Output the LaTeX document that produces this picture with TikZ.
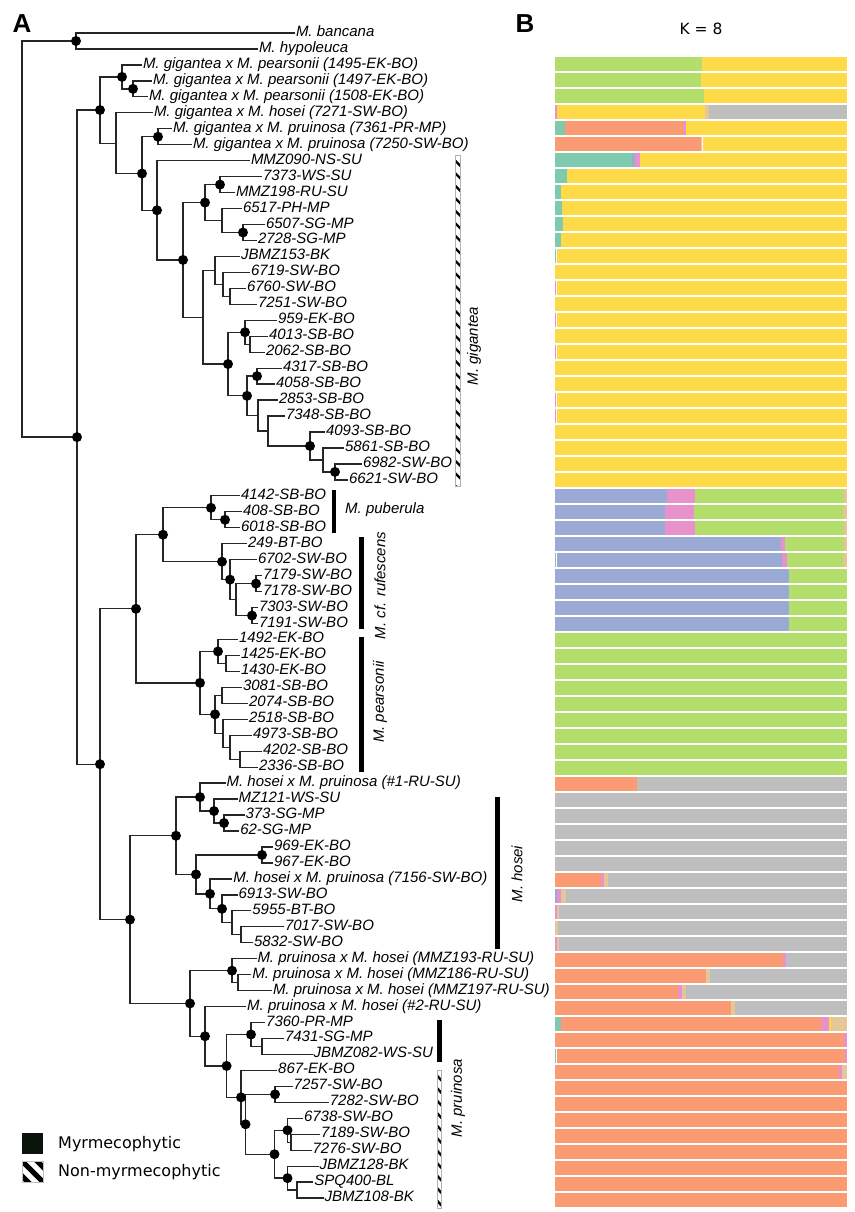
\documentclass[tikz,border=0pt]{standalone}
\usepackage{fontspec}
\setmainfont{Liberation Sans}
\newfontfamily\dejavu{DejaVu Sans}
\definecolor{cteal}{HTML}{7DCAAF}
\definecolor{csalmon}{HTML}{FB9B74}
\definecolor{cblue}{HTML}{9BAAD4}
\definecolor{cpink}{HTML}{E892CB}
\definecolor{cgreen}{HTML}{B3DE6B}
\definecolor{cyellow}{HTML}{FFDA48}
\definecolor{ctan}{HTML}{E5C699}
\definecolor{cgray}{HTML}{BEBEBE}
\definecolor{legblack}{HTML}{0B140B}
\newcommand{\admix}[2]{%
  \foreach \bc/\be [remember=\be as \bs (initially 555)] in {#2}
    \fill[\bc] ({\bs+0.35},{16*#1+8.7}) rectangle ({\be-0.35},{16*#1+23.3});
}
\newcommand{\hatchbar}[4]{%
  \begin{scope}
    \clip (#1,#2) rectangle (#3,#4);
    \fill[white] (#1,#2) rectangle (#3,#4);
    \pgfmathsetmacro{\hbA}{#2-8}\pgfmathsetmacro{\hbB}{#2+4.5}
    \foreach \yy in {\hbA,\hbB,...,#4} \draw[line width=2.4pt] (#1-1,\yy) -- (#3+1,\yy+7);
  \end{scope}
  \draw[gray!60, line width=0.6pt] (#1,#2) rectangle (#3,#4);}
\begin{document}
\begin{tikzpicture}[x=1pt,y=-1pt,
  branch/.style={line width=1.3pt, black!85},
  ndot/.style={circle, fill=black, inner sep=0pt, minimum size=10pt},
  leaf/.style={anchor=west, inner xsep=0.8pt, inner ysep=0pt, text height=10pt, text depth=3pt, font=\fontsize{15}{16}\selectfont\itshape},
  clab/.style={font=\fontsize{15}{16}\selectfont\itshape, inner sep=0pt},
  panel/.style={font=\fontsize{26}{26}\selectfont\bfseries, anchor=base, inner sep=0pt},
  legtext/.style={font=\dejavu\fontsize{16}{16}\selectfont, anchor=west, inner sep=0pt}
]
\useasboundingbox (0,0) rectangle (854,1212);

% ---------- internal nodes ----------
\coordinate (root) at (22,239.05);
\coordinate (og) at (76,40.98);
\coordinate (ig) at (77,437.12);
\coordinate (A) at (100,110.03);
\coordinate (h1) at (122,76.89);
\coordinate (h2) at (133,88.86);
\coordinate (B) at (116,143.16);
\coordinate (C) at (142,173.52);
\coordinate (D) at (158,136.74);
\coordinate (E) at (157,210.29);
\coordinate (F) at (183,259.9);
\coordinate (H) at (205,202.58);
\coordinate (I) at (220,184.62);
\coordinate (J) at (222,220.53);
\coordinate (K) at (243,232.5);
\coordinate (G) at (203,317.22);
\coordinate (L) at (215,270.4);
\coordinate (M) at (223,284.37);
\coordinate (N) at (230,296.34);
\coordinate (O) at (228,364.05);
\coordinate (P) at (245,332.25);
\coordinate (Q) at (250,344.22);
\coordinate (R) at (247,395.84);
\coordinate (S) at (257,376.14);
\coordinate (T) at (258,415.54);
\coordinate (U) at (268,431.0);
\coordinate (V) at (310,445.97);
\coordinate (W) at (323,459.93);
\coordinate (X) at (335,471.9);
\coordinate (LN) at (100,764.21);
\coordinate (UL) at (136,608.82);
\coordinate (PR) at (163,534.75);
\coordinate (Pu) at (211,507.81);
\coordinate (Pu2) at (225,519.78);
\coordinate (Ru) at (222,561.68);
\coordinate (Ru2) at (230,579.63);
\coordinate (Ru3) at (236,599.58);
\coordinate (Ru4) at (256,583.62);
\coordinate (Ru5) at (252,615.54);
\coordinate (Pe) at (200,682.88);
\coordinate (Pe1) at (218,651.45);
\coordinate (Pe2) at (226,663.42);
\coordinate (Pe3) at (215,714.3);
\coordinate (Pe4) at (222,695.34);
\coordinate (Pe5) at (223,733.25);
\coordinate (Pe6) at (230,747.21);
\coordinate (Pe7) at (240,759.18);
\coordinate (LL) at (130,919.6);
\coordinate (Ho) at (176,835.75);
\coordinate (Ho1) at (200,797.09);
\coordinate (Ho2) at (214,811.05);
\coordinate (Ho3) at (224,823.02);
\coordinate (Ho4) at (196,874.4);
\coordinate (Ho5) at (262,854.94);
\coordinate (Ho6) at (210,893.85);
\coordinate (Ho7) at (222,908.81);
\coordinate (Ho8) at (232,922.77);
\coordinate (Ho9) at (241,934.74);
\coordinate (Pr) at (190,1003.45);
\coordinate (Pr1) at (232,970.65);
\coordinate (Pr2) at (238,982.62);
\coordinate (Pr3) at (205,1036.24);
\coordinate (Pr4) at (226.6,1065.92);
\coordinate (Pr5) at (251,1034.49);
\coordinate (Pr6) at (262,1046.46);
\coordinate (Xx) at (241,1097.34);
\coordinate (Pr8) at (275,1094.34);
\coordinate (Z) at (245.5,1124.27);
\coordinate (Z2) at (274.5,1154.19);
\coordinate (Z3) at (287.5,1130.25);
\coordinate (Z4) at (291,1142.22);
\coordinate (Z5) at (287.5,1178.13);
\coordinate (Z6) at (297,1190.1);

% ---------- leaves ----------
\node[leaf] (L1) at (295,33.0) {M. bancana};
\node[leaf] (L2) at (258,48.96) {M. hypoleuca};
\node[leaf] (L3) at (142,64.92) {M. gigantea x M. pearsonii (1495-EK-BO)};
\node[leaf] (L4) at (152,80.88) {M. gigantea x M. pearsonii (1497-EK-BO)};
\node[leaf] (L5) at (148,96.84) {M. gigantea x M. pearsonii (1508-EK-BO)};
\node[leaf] (L6) at (153,112.8) {M. gigantea x M. hosei (7271-SW-BO)};
\node[leaf] (L7) at (172,128.76) {M. gigantea x M. pruinosa (7361-PR-MP)};
\node[leaf] (L8) at (192,144.72) {M. gigantea x M. pruinosa (7250-SW-BO)};
\node[leaf] (L9) at (250,160.68) {MMZ090-NS-SU};
\node[leaf] (L10) at (262,176.64) {7373-WS-SU};
\node[leaf] (L11) at (235,192.6) {MMZ198-RU-SU};
\node[leaf] (L12) at (242,208.56) {6517-PH-MP};
\node[leaf] (L13) at (265,224.52) {6507-SG-MP};
\node[leaf] (L14) at (257,240.48) {2728-SG-MP};
\node[leaf] (L15) at (240,256.44) {JBMZ153-BK};
\node[leaf] (L16) at (250,272.4) {6719-SW-BO};
\node[leaf] (L17) at (246,288.36) {6760-SW-BO};
\node[leaf] (L18) at (257,304.32) {7251-SW-BO};
\node[leaf] (L19) at (277,320.28) {959-EK-BO};
\node[leaf] (L20) at (268,336.24) {4013-SB-BO};
\node[leaf] (L21) at (265,352.2) {2062-SB-BO};
\node[leaf] (L22) at (282,368.16) {4317-SB-BO};
\node[leaf] (L23) at (275,384.12) {4058-SB-BO};
\node[leaf] (L24) at (278,400.08) {2853-SB-BO};
\node[leaf] (L25) at (285,416.04) {7348-SB-BO};
\node[leaf] (L26) at (325,432.0) {4093-SB-BO};
\node[leaf] (L27) at (344,447.96) {5861-SB-BO};
\node[leaf] (L28) at (362,463.92) {6982-SW-BO};
\node[leaf] (L29) at (348,479.88) {6621-SW-BO};
\node[leaf] (L30) at (240,495.84) {4142-SB-BO};
\node[leaf] (L31) at (242,511.8) {408-SB-BO};
\node[leaf] (L32) at (240,527.76) {6018-SB-BO};
\node[leaf] (L33) at (247,543.72) {249-BT-BO};
\node[leaf] (L34) at (257,559.68) {6702-SW-BO};
\node[leaf] (L35) at (262,575.64) {7179-SW-BO};
\node[leaf] (L36) at (262,591.6) {7178-SW-BO};
\node[leaf] (L37) at (258,607.56) {7303-SW-BO};
\node[leaf] (L38) at (258,623.52) {7191-SW-BO};
\node[leaf] (L39) at (238,639.48) {1492-EK-BO};
\node[leaf] (L40) at (240,655.44) {1425-EK-BO};
\node[leaf] (L41) at (240,671.4) {1430-EK-BO};
\node[leaf] (L42) at (242,687.36) {3081-SB-BO};
\node[leaf] (L43) at (248,703.32) {2074-SB-BO};
\node[leaf] (L44) at (248,719.28) {2518-SB-BO};
\node[leaf] (L45) at (252,735.24) {4973-SB-BO};
\node[leaf] (L46) at (262,751.2) {4202-SB-BO};
\node[leaf] (L47) at (258,767.16) {2336-SB-BO};
\node[leaf] (L48) at (225.6,783.12) {M. hosei x M. pruinosa (\#1-RU-SU)};
\node[leaf] (L49) at (237.6,799.08) {MZ121-WS-SU};
\node[leaf] (L50) at (244.5,815.04) {373-SG-MP};
\node[leaf] (L51) at (239.3,831.0) {62-SG-MP};
\node[leaf] (L52) at (273,846.96) {969-EK-BO};
\node[leaf] (L53) at (273,862.92) {967-EK-BO};
\node[leaf] (L54) at (232.4,878.88) {M. hosei x M. pruinosa (7156-SW-BO)};
\node[leaf] (L55) at (237.6,894.84) {6913-SW-BO};
\node[leaf] (L56) at (251.4,910.8) {5955-BT-BO};
\node[leaf] (L57) at (284,926.76) {7017-SW-BO};
\node[leaf] (L58) at (253,942.72) {5832-SW-BO};
\node[leaf] (L59) at (256.5,958.68) {M. pruinosa x M. hosei (MMZ193-RU-SU)};
\node[leaf] (L60) at (251.4,974.64) {M. pruinosa x M. hosei (MMZ186-RU-SU)};
\node[leaf] (L61) at (272,990.6) {M. pruinosa x M. hosei (MMZ197-RU-SU)};
\node[leaf] (L62) at (246.2,1006.56) {M. pruinosa x M. hosei (\#2-RU-SU)};
\node[leaf] (L63) at (265.2,1022.52) {7360-PR-MP};
\node[leaf] (L64) at (284,1038.48) {7431-SG-MP};
\node[leaf] (L65) at (312.7,1054.44) {JBMZ082-WS-SU};
\node[leaf] (L66) at (277.2,1070.4) {867-EK-BO};
\node[leaf] (L67) at (292.7,1086.36) {7257-SW-BO};
\node[leaf] (L68) at (328.9,1102.32) {7282-SW-BO};
\node[leaf] (L69) at (303,1118.28) {6738-SW-BO};
\node[leaf] (L70) at (320.2,1134.24) {7189-SW-BO};
\node[leaf] (L71) at (311.6,1150.2) {7276-SW-BO};
\node[leaf] (L72) at (318.5,1166.16) {JBMZ128-BK};
\node[leaf] (L73) at (313.4,1182.12) {SPQ400-BL};
\node[leaf] (L74) at (323.7,1198.08) {JBMZ108-BK};

% ---------- branches ----------
\foreach \p/\q in {root/og, root/ig, og/L1.west, og/L2.west, ig/A, ig/LN,
  A/h1, A/B, h1/L3.west, h1/h2, h2/L4.west, h2/L5.west, B/L6.west, B/C,
  C/D, C/E, D/L7.west, D/L8.west, E/L9.west, E/F, F/H, F/G, H/I, H/J,
  I/L10.west, I/L11.west, J/L12.west, J/K, K/L13.west, K/L14.west,
  G/L, G/O, L/L15.west, L/M, M/L16.west, M/N, N/L17.west, N/L18.west,
  O/P, O/R, P/L19.west, P/Q, Q/L20.west, Q/L21.west, R/S, R/T,
  S/L22.west, S/L23.west, T/L24.west, T/U, U/L25.west, U/V, V/L26.west, V/W,
  W/L27.west, W/X, X/L28.west, X/L29.west,
  LN/UL, LN/LL, UL/PR, UL/Pe, PR/Pu, PR/Ru, Pu/L30.west, Pu/Pu2,
  Pu2/L31.west, Pu2/L32.west, Ru/L33.west, Ru/Ru2, Ru2/L34.west, Ru2/Ru3,
  Ru3/Ru4, Ru3/Ru5, Ru4/L35.west, Ru4/L36.west, Ru5/L37.west, Ru5/L38.west,
  Pe/Pe1, Pe/Pe3, Pe1/L39.west, Pe1/Pe2, Pe2/L40.west, Pe2/L41.west,
  Pe3/Pe4, Pe3/Pe5, Pe4/L42.west, Pe4/L43.west, Pe5/L44.west, Pe5/Pe6,
  Pe6/L45.west, Pe6/Pe7, Pe7/L46.west, Pe7/L47.west,
  LL/Ho, LL/Pr, Ho/Ho1, Ho/Ho4, Ho1/L48.west, Ho1/Ho2, Ho2/L49.west, Ho2/Ho3,
  Ho3/L50.west, Ho3/L51.west, Ho4/Ho5, Ho4/Ho6, Ho5/L52.west, Ho5/L53.west,
  Ho6/L54.west, Ho6/Ho7, Ho7/L55.west, Ho7/Ho8, Ho8/L56.west, Ho8/Ho9,
  Ho9/L57.west, Ho9/L58.west,
  Pr/Pr1, Pr/Pr3, Pr1/L59.west, Pr1/Pr2, Pr2/L60.west, Pr2/L61.west,
  Pr3/L62.west, Pr3/Pr4, Pr4/Pr5, Pr4/Xx, Pr5/L63.west, Pr5/Pr6,
  Pr6/L64.west, Pr6/L65.west, Xx/L66.west, Xx/Z, Z/Pr8, Z/Z2,
  Pr8/L67.west, Pr8/L68.west, Z2/Z3, Z2/Z5, Z3/L69.west, Z3/Z4,
  Z4/L70.west, Z4/L71.west, Z5/L72.west, Z5/Z6, Z6/L73.west, Z6/L74.west}
  \draw[branch] (\p) |- (\q);

% ---------- support dots ----------
\foreach \n in {og, ig, A, h1, h2, C, D, E, F, H, I, K, O, P, R, S, V, X,
  LN, UL, PR, Pu, Pu2, Ru, Ru2, Ru4, Ru5, Pe, Pe1, Pe3,
  LL, Ho, Ho1, Ho2, Ho3, Ho4, Ho5, Ho6, Ho7,
  Pr, Pr1, Pr3, Pr4, Pr5, Xx, Pr8, Z, Z2, Z3, Z5}
  \node[ndot] at (\n) {};

% ---------- clade bars ----------
\hatchbar{455}{155}{460}{486}
\node[clab, rotate=90] (tgig) at (474,346) {M. gigantea};
\fill (332,490) rectangle (336,533);
\node[clab, anchor=west] (tpub) at (345,510) {M. puberula};
\fill (359,537) rectangle (364,629);
\node[clab, rotate=90] (truf) at (380,585.5) {M. cf. rufescens};
\fill (359,637) rectangle (364,772);
\node[clab, rotate=90] (tpea) at (380,702) {M. pearsonii};
\fill (495,797) rectangle (500,949);
\node[clab, rotate=90] (thos) at (517,874) {M. hosei};
\fill (437,1020) rectangle (441.5,1062);
\hatchbar{437}{1070}{441.5}{1208}
\node[clab, rotate=90] (tpru) at (458,1098) {M. pruinosa};

% ---------- legend ----------
\fill[legblack] (22,1133) rectangle (43,1154);
\begin{scope}
  \clip (22,1161) rectangle (43,1182);
  \fill[white] (22,1161) rectangle (43,1182);
  \foreach \cc in {-15,0,15}
    \draw[line width=5pt] (12+\cc,1151) -- (53+\cc,1192);
\end{scope}
\draw[gray!50, line width=0.5pt] (22,1161) rectangle (43,1182);
\node[legtext] (lg1) at (58,1144) {Myrmecophytic};
\node[legtext] (lg2) at (58,1172) {Non-myrmecophytic};

% ---------- panel labels ----------
\node[panel] (pA) at (22,33) {A};
\node[panel] (pB) at (525,33) {B};
\node[font=\dejavu\fontsize{15.5}{16}\selectfont, inner sep=0pt] (kk) at (701,29) {K = 8};

% ---------- admixture bars ----------
\admix{3}{cgreen/702,cyellow/847}
\admix{4}{cgreen/701,cyellow/847}
\admix{5}{cgreen/704,cyellow/847}
\admix{6}{cpink/557,cyellow/705,ctan/709,cgray/847}
\admix{7}{cteal/565,csalmon/684,cpink/686,cyellow/847}
\admix{8}{csalmon/701,ctan/702.5,cyellow/847}
\admix{9}{cteal/632,cblue/635,cpink/640,cyellow/847}
\admix{10}{cteal/567,cyellow/847}
\admix{11}{cteal/561,cyellow/847}
\admix{12}{cteal/562,cyellow/847}
\admix{13}{cteal/563,cyellow/847}
\admix{14}{cteal/561,cyellow/847}
\admix{15}{cteal/556.6,cyellow/847}
\admix{16}{cyellow/847}
\admix{17}{cpink/556.6,cyellow/847}
\admix{18}{cyellow/847}
\admix{19}{cpink/556.6,cyellow/847}
\admix{20}{cyellow/847}
\admix{21}{cpink/556.6,cyellow/847}
\admix{22}{cyellow/847}
\admix{23}{cyellow/847}
\admix{24}{cpink/556.6,cyellow/847}
\admix{25}{cpink/556.6,cyellow/847}
\foreach \k in {26,...,29} {\admix{\k}{cyellow/847}}
\admix{30}{cblue/667,cpink/695,cgreen/844,ctan/847}
\admix{31}{cblue/665,cpink/694,cgreen/843,ctan/847}
\admix{32}{cblue/665,cpink/695,cgreen/844,ctan/847}
\admix{33}{cblue/781,cpink/785,cgreen/844,ctan/847}
\admix{34}{cteal/556.6,cblue/782,cpink/787,cgreen/843,ctan/847}
\foreach \k in {35,...,38} {\admix{\k}{cblue/789,cgreen/847}}
\foreach \k in {39,...,47} {\admix{\k}{cgreen/847}}
\admix{48}{csalmon/637,cgray/847}
\foreach \k in {49,...,53} {\admix{\k}{cgray/847}}
\admix{54}{csalmon/601,cpink/604,ctan/608,cgray/847}
\admix{55}{cblue/557,cpink/561,ctan/566,cgray/847}
\admix{56}{cpink/557,ctan/559,cgray/847}
\admix{57}{ctan/558,cgray/847}
\admix{58}{cpink/557,ctan/559,cgray/847}
\admix{59}{csalmon/783,cpink/786,cgray/847}
\admix{60}{csalmon/706,ctan/710,cgray/847}
\admix{61}{csalmon/678,cpink/682,ctan/686,cgray/847}
\admix{62}{csalmon/731,ctan/735,cgray/847}
\admix{63}{cteal/561,csalmon/821,cpink/829,cyellow/831,ctan/847}
\admix{64}{csalmon/844,cpink/847}
\admix{65}{cteal/556.6,csalmon/845,cpink/847}
\admix{66}{csalmon/839,cpink/842,ctan/847}
\foreach \k in {67,...,74} {\admix{\k}{csalmon/847}}
\end{tikzpicture}
\end{document}
